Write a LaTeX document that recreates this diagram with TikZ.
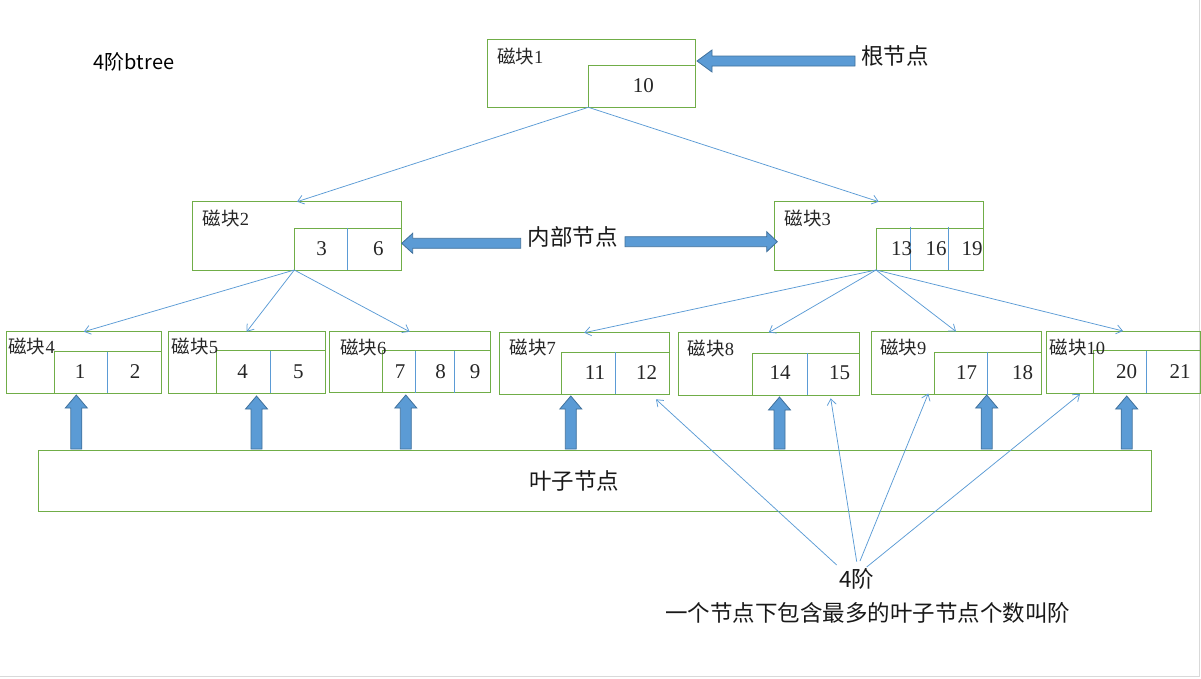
\documentclass[tikz,border=0pt]{standalone}
\usepackage{fontspec}
\setmainfont{Liberation Serif}
\newfontfamily\cjk{Noto Sans CJK SC}
\usetikzlibrary{arrows.meta,calc}
\definecolor{grn}{HTML}{70AD47}
\definecolor{blu}{HTML}{5B9BD5}
\definecolor{bdr}{HTML}{41719C}
\definecolor{edge}{HTML}{D9D9D9}
\tikzset{
  box/.style={draw=grn,line width=1pt,inner sep=0pt,outer sep=0pt},
  divline/.style={draw=blu,line width=0.8pt},
  link/.style={draw=blu,line width=0.75pt,-{Straight Barb[length=6pt,width=9pt]}},
  num/.style={font=\fontsize{21}{21}\selectfont,inner sep=0pt,text=black!85},
  lbl/.style={font=\fontsize{18.5}{18.5}\selectfont,inner sep=0pt,anchor=west,text=black!85},
  big/.style={font=\cjk\fontsize{22.5}{22.5}\selectfont,inner sep=0pt,text=black!90},
  blk/.style={fill=blu,draw=bdr,line width=0.8pt,line join=miter},
}
% name, x1, y1, x2, y2, inner-x, inner-y
\newcommand\mkblock[7]{%
  \node[box,anchor=north west,minimum width={#4-#2},minimum height={#5-#3}] (#1) at (#2,#3) {};
  \node[box,anchor=south east,minimum width={#4-#6},minimum height={#5-#7}] (#1in) at (#4,#5) {};
}
% up block arrow: x, tip y, bottom y
\newcommand\uparr[3]{%
  \draw[blk] (#1,#2) -- (#1+11,#2+13) -- (#1+5.5,#2+13) -- (#1+5.5,#3) -- (#1-5.5,#3) -- (#1-5.5,#2+13) -- (#1-11,#2+13) -- cycle;
}
\begin{document}
\begin{tikzpicture}[x=1pt,y=-1pt]
\useasboundingbox (0,0) rectangle (1201,678);
\draw[edge,line width=1.5pt] (0,676.5) -- (1199.5,676.5) -- (1199.5,0);

% title
\node[font=\cjk\fontsize{20}{20}\selectfont,inner sep=0pt] (title) at (134,62) {4阶btree};

% blocks
\mkblock{b1}{487.3}{39.3}{695}{107.3}{588.3}{65}
\mkblock{b2}{192.3}{201.7}{401.7}{270}{294.3}{228.3}
\mkblock{b3}{774.3}{201.7}{983.3}{270}{876}{228.3}
\mkblock{b4}{6}{331.7}{161.7}{393.3}{54.3}{351.7}
\mkblock{b5}{168.3}{331.7}{325}{393.3}{216.7}{350.7}
\mkblock{b6}{329.3}{331.7}{490}{392.7}{382.3}{350.7}
\mkblock{b7}{499.3}{332.7}{669.3}{394}{561.7}{352.3}
\mkblock{b8}{678.5}{332.5}{859}{395}{752}{353}
\mkblock{b9}{871}{331.5}{1041}{394.5}{934}{352}
\mkblock{b10}{1046}{331}{1200}{393.3}{1093.3}{350.7}

% dividers
\draw[divline] (347.3,228.3) -- (347.3,270);
\draw[divline] (910.7,226.7) -- (910.7,270);
\draw[divline] (948.7,226.7) -- (948.7,270);
\draw[divline] (107.7,351.7) -- (107.7,393.3);
\draw[divline] (270,350.7) -- (270,393.3);
\draw[divline] (415.7,350.7) -- (415.7,392.7);
\draw[divline] (454.3,350.7) -- (454.3,392.7);
\draw[divline] (615.7,352.3) -- (615.7,394);
\draw[divline] (807,353) -- (807,395);
\draw[divline] (987,352) -- (987,394.5);
\draw[divline] (1146.7,350.7) -- (1146.7,393.3);

% labels
\node[lbl] (l1) at (497,56) {{\cjk 磁块}1};
\node[lbl] (l2) at (202.7,218.3) {{\cjk 磁块}2};
\node[lbl] (l3) at (784.3,218.3) {{\cjk 磁块}3};
\node[lbl] (l4) at (8.3,346.7) {{\cjk 磁块}4};
\node[lbl] (l5) at (171.7,346.7) {{\cjk 磁块}5};
\node[lbl] (l6) at (340,347.3) {{\cjk 磁块}6};
\node[lbl] (l7) at (509.3,347.3) {{\cjk 磁块}7};
\node[lbl] (l8) at (687.6,348.8) {{\cjk 磁块}8};
\node[lbl] (l9) at (880,347.5) {{\cjk 磁块}9};
\node[lbl] (l10) at (1049.3,347.3) {{\cjk 磁块}10};

% numbers
\node[num] (k10) at (643.3,86) {10};
\node[num] (k3) at (321.7,249) {3};
\node[num] (k6) at (378.3,249) {6};
\node[num] (k13) at (901.7,249) {13};
\node[num] (k16) at (936,249) {16};
\node[num] (k19) at (972,249) {19};
\node[num] (k1) at (80,372) {1};
\node[num] (k2) at (135,372) {2};
\node[num] (k4) at (242.7,372) {4};
\node[num] (k5) at (298.3,372) {5};
\node[num] (k7) at (400,371.7) {7};
\node[num] (k8) at (440.7,371.7) {8};
\node[num] (k9) at (475,371.7) {9};
\node[num] (k11) at (595,372.5) {11};
\node[num] (k12) at (646.7,372.5) {12};
\node[num] (k14) at (780,373) {14};
\node[num] (k15) at (839.5,373) {15};
\node[num] (k17) at (966.6,372.5) {17};
\node[num] (k18) at (1022.5,372.5) {18};
\node[num] (k20) at (1126.7,372) {20};
\node[num] (k21) at (1180,372) {21};

% tree edges
\draw[link] (b1in.south west) -- (b2.north);
\draw[link] (b1in.south west) -- (b3.north);
\draw[link] (b2in.south west) -- (b4.north);
\draw[link] (b2in.south west) -- (b5.north);
\draw[link] (b2in.south west) -- (b6.north);
\draw[link] (b3in.south west) -- (b7.north);
\draw[link] (b3in.south west) -- (b8.north);
\draw[link] (b3in.south west) -- (b9.north);
\draw[link] (b3in.south west) -- (b10.north);

% root label and arrow
\node[big] (root) at (895,56) {根节点};
\draw[blk] (697,61) -- (712,50) -- (712,56) -- (855,56) -- (855,66) -- (712,66) -- (712,72) -- cycle;

% internal label and arrows
\node[big] (inner) at (572.5,237) {内部节点};
\draw[blk] (401.7,243.3) -- (412.7,233.3) -- (412.7,238.3) -- (520.7,238.3) -- (520.7,248.3) -- (412.7,248.3) -- (412.7,253.3) -- cycle;
\draw[blk] (777.3,241.7) -- (766.7,231.7) -- (766.7,236.7) -- (625,236.7) -- (625,246.7) -- (766.7,246.7) -- (766.7,251.7) -- cycle;

% leaf arrows
\uparr{76.3}{395}{449}
\uparr{256.5}{396}{449}
\uparr{405.8}{395}{449}
\uparr{570.8}{396}{449}
\uparr{779.5}{397}{449}
\uparr{986.7}{395}{449}
\uparr{1126.7}{396}{449}

% leaf box
\node[box,anchor=north west,minimum width=1112.7pt,minimum height=61pt] (leaf) at (38.3,450) {};
\node[big] (leaftxt) at (574,481) {叶子节点};

% order annotation
\node[big] (order) at (856.7,579) {4阶};
\node[big] (note) at (867.5,613) {一个节点下包含最多的叶子节点个数叫阶};
\coordinate (s1) at (836.7,565);
\coordinate (s2) at (856.7,561.7);
\coordinate (s3) at (860,561);
\coordinate (s4) at (866.7,567);
\coordinate (t1) at (656,399.3);
\coordinate (t2) at (830.7,398.3);
\coordinate (t3) at (928.3,393.5);
\coordinate (t4) at (1080,394);
\draw[link] (s1) -- (t1);
\draw[link] (s2) -- (t2);
\draw[link] (s3) -- (t3);
\draw[link] (s4) -- (t4);
\end{tikzpicture}
\end{document}
